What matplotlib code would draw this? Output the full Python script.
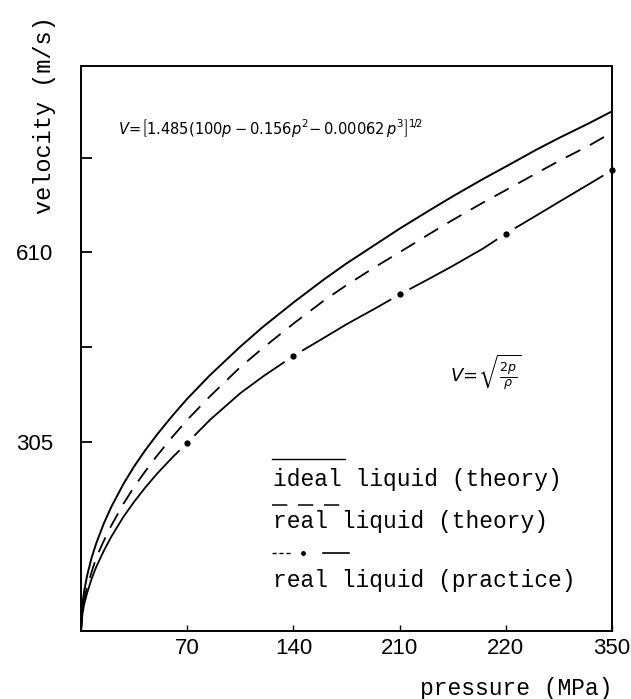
import numpy as np
import matplotlib
matplotlib.use("Agg")
import matplotlib.pyplot as plt

# ---- data ----
pressure = [0, 1, 2, 4, 7, 10, 15, 20, 28, 35, 42, 50, 60, 70, 85, 105, 120, 140,
            160, 175, 195, 210, 230, 245, 265, 280, 300, 315, 335, 350]
ideal_theory = [0, 45, 63, 89, 118, 141, 173, 200, 237, 265, 290, 316, 346, 374,
                412, 458, 490, 529, 566, 592, 624, 648, 678, 700, 728, 748, 775, 794, 818, 837]
real_theory = [0, 36, 50, 71, 95, 118, 145, 170, 205, 232, 256, 282, 312, 340,
               378, 425, 456, 495, 532, 557, 588, 610, 640, 662, 690, 710, 737, 757, 782, 803]
real_practice = [0, 28, 42, 61, 84, 103, 129, 152, 184, 208, 230, 253, 279, 303,
                 340, 383, 410, 443, 472, 494, 521, 542, 568, 588, 616, 640, 669, 691, 720, 742]
practice_dots_p = [70, 140, 210, 280, 350]

x_ticks = [70, 140, 210, 280, 350]
x_tick_labels = ["70", "140", "210", "220", "350"]
y_ticks = [305, 457.5, 610, 762.5]
y_tick_labels = ["305", "", "610", ""]

legend_labels = ["ideal liquid (theory)", "real liquid (theory)", "real liquid (practice)"]

mono = "Liberation Mono"
sans = "Liberation Sans"

fig = plt.figure(figsize=(6.31, 6.99), dpi=100)
ax = fig.add_axes([81 / 631, 1 - 631 / 699, (612 - 81) / 631, (631 - 66) / 699])

ax.plot(pressure, ideal_theory, color="black", lw=1.4, solid_capstyle="butt")
ax.plot(pressure, real_theory, color="black", lw=1.3, dashes=(9, 6))
ax.plot(pressure, real_practice, color="black", lw=1.3)

p_arr = np.array(pressure)
v_arr = np.array(real_practice)
mask = np.isin(p_arr, practice_dots_p)
ax.plot(p_arr[mask], v_arr[mask], linestyle="none", marker="o", markersize=15,
        markerfacecolor="white", markeredgecolor="white", markeredgewidth=0, zorder=2.2, clip_on=False)
ax.plot(p_arr[mask], v_arr[mask], linestyle="none", marker="o", markersize=4.5,
        markerfacecolor="black", markeredgewidth=0, zorder=2.3, clip_on=False)

ax.set_xlim(0, 350)
ax.set_ylim(0, 910)

ax.set_xticks(x_ticks)
ax.set_xticklabels(x_tick_labels, fontfamily=sans, fontsize=16)
ax.set_yticks(y_ticks)
ax.set_yticklabels(y_tick_labels, fontfamily=sans, fontsize=16)
ax.tick_params(axis="x", direction="in", length=4, width=1, pad=5)
ax.tick_params(axis="y", direction="in", length=8, width=1.3, pad=20)
for s in ax.spines.values():
    s.set_linewidth(1.4)

# formulas
ax.text(24.5, 810,
        r"$V\!=\!\left[1.485(100p-0.156p^2\!-0.00062\,p^3\right]^{1\!/\!2}$",
        fontsize=10.5, va="center", ha="left")
ax.text(243, 415, r"$V\!=\!\sqrt{\frac{2p}{\rho}}$", fontsize=13, va="center", ha="left")

# custom legend (sample line above text)
tr = ax.transAxes
ax.plot([0.360, 0.497], [0.304, 0.304], color="black", lw=1.0, transform=tr)
ax.text(0.362, 0.2566, legend_labels[0], family=mono, fontsize=16.5, transform=tr, va="baseline")
ax.plot([0.360, 0.500], [0.223, 0.223], color="black", lw=1.1, dashes=(10, 7), transform=tr)
ax.text(0.362, 0.1823, legend_labels[1], family=mono, fontsize=16.5, transform=tr, va="baseline")
ax.plot([0.360, 0.395], [0.138, 0.138], color="black", lw=1.0, dashes=(3, 2), transform=tr)
ax.plot([0.419], [0.138], "o", color="black", ms=2.5, transform=tr)
ax.plot([0.455, 0.505], [0.138, 0.138], color="black", lw=1.2, transform=tr)
ax.text(0.362, 0.0779, legend_labels[2], family=mono, fontsize=16.5, transform=tr, va="baseline")

# axis titles
fig.text(45 / 631, 1 - 115 / 699, "velocity (m/s)", family=mono, fontsize=17,
         rotation=90, ha="center", va="center")
fig.text(612 / 631, 1 - 689 / 699, "pressure (MPa)", family=mono, fontsize=16.5,
         ha="right", va="center")

fig.savefig("out.png", dpi=100)
